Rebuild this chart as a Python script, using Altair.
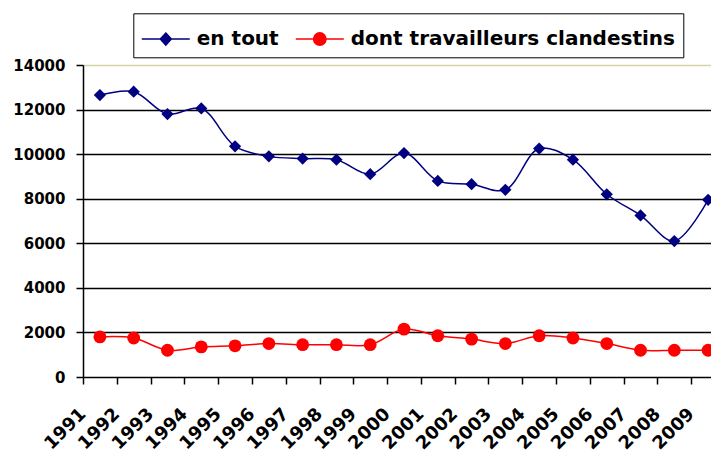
import altair as alt
import pandas as pd

years = ["1991", "1992", "1993", "1994", "1995", "1996", "1997", "1998", "1999", "2000",
         "2001", "2002", "2003", "2004", "2005", "2006", "2007", "2008", "2009"]
en_tout = [12650, 12800, 11800, 12050, 10350, 9900, 9800, 9750, 9100, 10050,
           8800, 8650, 8400, 10250, 9750, 8200, 7250, 6100, 7950]
clandestins = [1800, 1750, 1200, 1350, 1400, 1500, 1450, 1450, 1450, 2150,
               1850, 1700, 1500, 1850, 1750, 1500, 1200, 1200, 1200]
series_names = ["en tout", "dont travailleurs clandestins"]
series_colors = ["#000080", "#ff0000"]
y_ticks = [0, 2000, 4000, 6000, 8000, 10000, 12000, 14000]

rows = []
for y, a, b in zip(years, en_tout, clandestins):
    rows.append({"year": y, "series": series_names[0], "value": a})
    rows.append({"year": y, "series": series_names[1], "value": b})
df = pd.DataFrame(rows)

FONT = "DejaVu Sans"

x_enc = alt.X(
    "year:O",
    sort=years,
    scale=alt.Scale(domain=years, range=[0, 642], paddingInner=0, paddingOuter=0),
    axis=alt.Axis(
        title=None, labelAngle=-45, labelAlign="right", labelBaseline="middle",
        labelFont=FONT, labelFontWeight="bold", labelFontSize=18, labelColor="black",
        tickBand="extent", tickSize=7, tickColor="black", tickWidth=1.5,
        labelPadding=27, labelOffset=-17, domain=False, grid=False, labelOverlap=False,
    ),
)
y_enc = alt.Y(
    "value:Q",
    scale=alt.Scale(domain=[0, 14000], nice=False),
    axis=alt.Axis(
        title=None, values=y_ticks, format="d",
        labelFont=FONT, labelFontWeight="bold", labelFontSize=15, labelColor="black",
        tickSize=7, tickColor="black", tickWidth=1.5, labelPadding=11,
        domainColor="black", domainWidth=1.5,
        grid=True, gridWidth=1.5,
        gridColor=alt.condition("datum.value == 14000", alt.value("#d6d3aa"), alt.value("black")),
    ),
)

legend_shapes = [
    "M-1.433,0H1.433M0,-0.358L0.328,0L0,0.358L-0.328,0Z",
    "M-1.433,0H1.433M0.37,0A0.37,0.37,0,1,1,-0.37,0A0.37,0.37,0,1,1,0.37,0Z",
]
leg = alt.Legend(
    orient="none", legendX=50.3, legendY=-51.7, direction="horizontal", title=None,
    labelFont=FONT, labelFontWeight="bold", labelFontSize=20, labelColor="black",
    labelLimit=600,
    symbolSize=1122, symbolStrokeWidth=1.5, symbolOpacity=1, symbolOffset=7,
    strokeColor="black", fillColor="white", padding=8, columnPadding=13, labelOffset=13.5,
)

base = alt.Chart(df)

lines = base.mark_line(interpolate="catmull-rom", strokeWidth=1.5).encode(
    x=x_enc, y=y_enc,
    color=alt.Color("series:N", scale=alt.Scale(domain=series_names, range=series_colors), legend=leg),
)

diamonds = base.transform_filter(alt.datum.series == series_names[0]).mark_point(
    shape="diamond", filled=True, size=150, color=series_colors[0], opacity=1
).encode(x=x_enc, y=y_enc)

circles = base.transform_filter(alt.datum.series == series_names[1]).mark_point(
    shape="circle", filled=True, size=165, color=series_colors[1], opacity=1
).encode(x=x_enc, y=y_enc)

legend_layer = base.mark_point(opacity=0, filled=True).encode(
    x=x_enc, y=y_enc,
    stroke=alt.Stroke("series:N", scale=alt.Scale(domain=series_names, range=series_colors), legend=leg),
    fill=alt.Fill("series:N", scale=alt.Scale(domain=series_names, range=series_colors), legend=leg),
    shape=alt.Shape("series:N", scale=alt.Scale(domain=series_names, range=legend_shapes), legend=leg),
)

chart = alt.layer(lines, diamonds, circles, legend_layer).properties(
    width=628, height=312,
    autosize=alt.AutoSizeParams(type="none"),
    padding={"left": 75, "top": 57, "right": 0, "bottom": 76},
).configure_view(stroke=None).configure(background="white")

chart.save("out.html", embed_options={"renderer": "svg", "actions": False})
